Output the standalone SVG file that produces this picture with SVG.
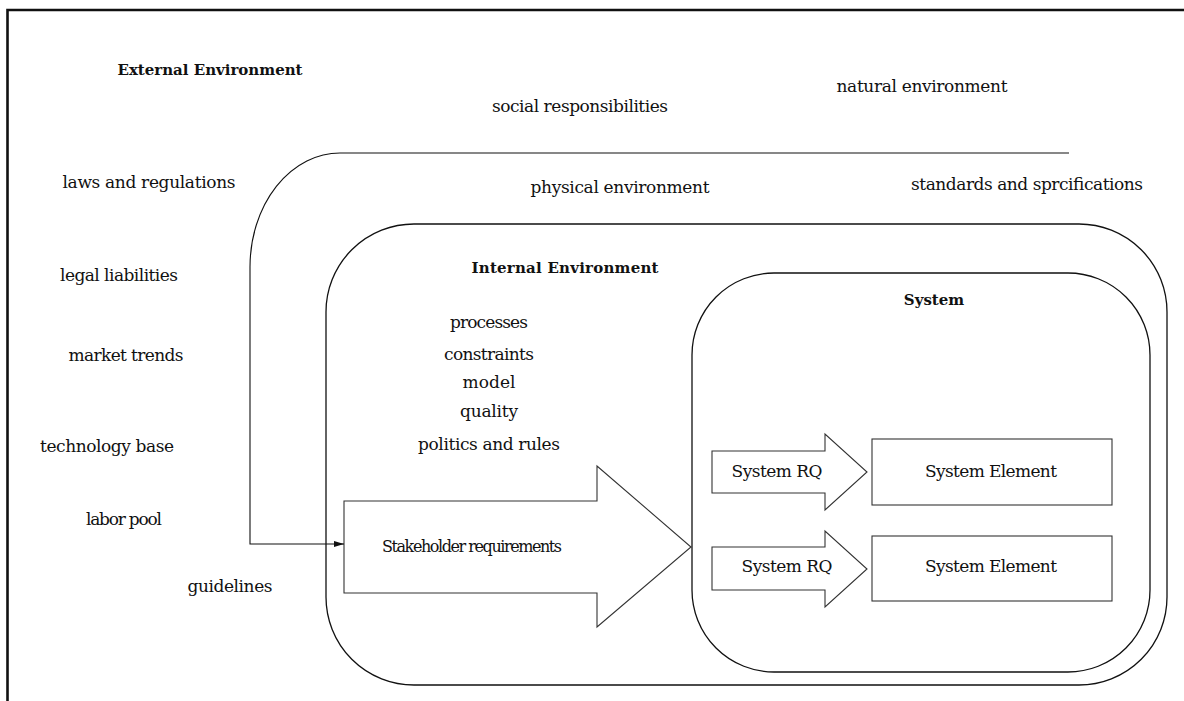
<svg xmlns="http://www.w3.org/2000/svg" width="1184" height="701" viewBox="0 0 1184 701">
  <style>
    text { font-family: "DejaVu Serif", "Liberation Serif", serif; font-size: 17px; fill: #111; text-anchor: middle; }
    .title { font-weight: bold; font-size: 15px; }
    .frame { stroke: #111; stroke-width: 2.6; fill: none; }
    .env { fill: none; stroke: #111; stroke-width: 1.3; }
    .shape { fill: #fff; stroke: #333; stroke-width: 1.1; }
    .link { fill: none; stroke: #111; stroke-width: 1.1; }
  </style>
  <defs>
    <marker id="head" viewBox="0 0 10 6" refX="10" refY="3" markerWidth="10" markerHeight="6" markerUnits="userSpaceOnUse" orient="auto">
      <path d="M0 0 L10 3 L0 6 Z" fill="#111"/>
    </marker>
  </defs>

  <!-- page frame -->
  <path class="frame" d="M7.5 701 V10 H1184"/>

  <!-- external environment -->
  <g id="external-environment">
    <text class="title" x="210" y="75" textLength="185">External Environment</text>
    <text x="922" y="92" textLength="171">natural environment</text>
    <text x="580" y="112" textLength="176">social responsibilities</text>
    <text x="149" y="188" textLength="173">laws and regulations</text>
    <text x="620" y="193" textLength="179">physical environment</text>
    <text x="1027" y="190" textLength="232">standards and sprcifications</text>
    <text x="119" y="281" textLength="118">legal liabilities</text>
    <text x="126" y="361" textLength="115">market trends</text>
    <text x="107" y="452" textLength="134">technology base</text>
    <text x="124" y="525" textLength="76">labor pool</text>
    <text x="230" y="592" textLength="85">guidelines</text>
  </g>

  <!-- internal environment -->
  <g id="internal-environment">
    <rect class="env" x="326" y="224" width="841" height="461" rx="88" ry="88"/>
    <text class="title" x="565" y="273" textLength="187">Internal Environment</text>
    <text x="489" y="328" textLength="78">processes</text>
    <text x="489" y="360" textLength="90">constraints</text>
    <text x="489" y="388" textLength="53">model</text>
    <text x="489" y="417" textLength="58">quality</text>
    <text x="489" y="450" textLength="142">politics and rules</text>
  </g>

  <!-- stakeholder requirements arrow -->
  <g id="stakeholder-requirements">
    <polygon class="shape" points="344,501 597,501 597,466 691,547 597,627 597,593 344,593"/>
    <text x="472" y="552" style="font-size:16px" textLength="180">Stakeholder requirements</text>
  </g>

  <!-- system -->
  <g id="system">
    <rect class="env" x="692" y="273" width="458" height="399" rx="82" ry="82"/>
    <text class="title" x="934" y="305">System</text>
  </g>

  <g id="system-rq-1">
    <polygon class="shape" points="712,451 825,451 825,434 867,472 825,510 825,493 712,493"/>
    <text x="777" y="477" textLength="91">System RQ</text>
  </g>
  <g id="system-rq-2">
    <polygon class="shape" points="712,547 825,547 825,531 867,569 825,607 825,590 712,590"/>
    <text x="787" y="572" textLength="91">System RQ</text>
  </g>

  <g id="system-element-1">
    <rect class="shape" x="872" y="439" width="240" height="66"/>
    <text x="991" y="477" textLength="132">System Element</text>
  </g>
  <g id="system-element-2">
    <rect class="shape" x="872" y="536" width="240" height="65"/>
    <text x="991" y="572" textLength="132">System Element</text>
  </g>

  <!-- connectors -->
  <g id="connectors">
    <path class="link" d="M1069 153 H340 A90 114 0 0 0 250 267 V544 H344" marker-end="url(#head)"/>
  </g>
</svg>
